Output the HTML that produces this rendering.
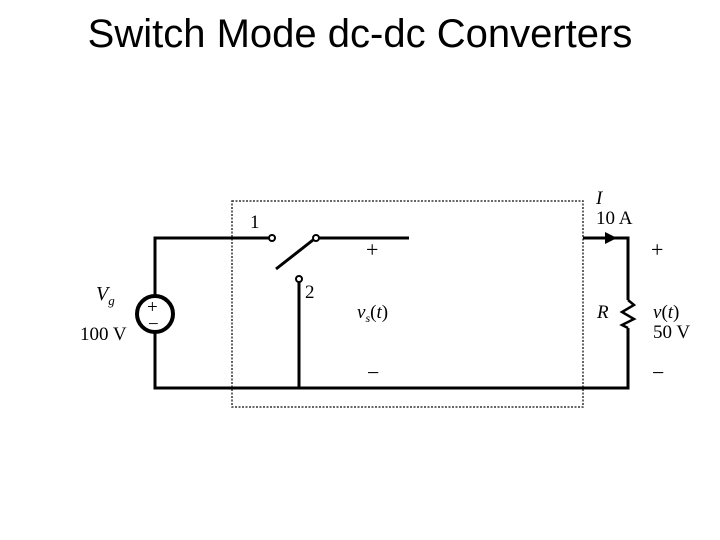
<!DOCTYPE html>
<html><head><style>
body{margin:0;background:#fff;width:720px;height:540px;overflow:hidden}
.t{position:absolute;left:0;width:720px;top:12px;text-align:center;font-family:"Liberation Sans",sans-serif;font-size:40px;color:#000}
</style></head><body>
<div class="t">Switch Mode dc-dc Converters</div>
<svg width="720" height="540" style="position:absolute;left:0;top:0" font-family="Liberation Serif, serif" font-size="19">
<rect x="232" y="201" width="351" height="206" fill="none" stroke="#333" stroke-width="1.5" stroke-dasharray="2,1.5"/>
<g stroke="#000" stroke-width="3" fill="none">
<polyline points="155,295 155,238 269,238"/>
<polyline points="155,333 155,388 628,388 628,328"/>
<line x1="319" y1="238" x2="409" y2="238"/>
<line x1="276" y1="269" x2="313" y2="240"/>
<line x1="299" y1="282" x2="299" y2="388"/>
<polyline points="583,238 628,238 628,300"/>
<polyline points="628,300 634,305 622,312 634,319 622,325 628,328" stroke-width="2.5"/>
<circle cx="155" cy="314" r="18" stroke-width="4"/>
</g>
<g stroke="#000" stroke-width="2" fill="#fff">
<circle cx="272" cy="238" r="3"/><circle cx="316" cy="238" r="3"/><circle cx="299" cy="279" r="3"/>
</g>
<polygon points="605,232 617,238 605,244" fill="#000"/>
<g fill="#000">
<text x="250" y="228">1</text><text x="305" y="298">2</text>
<text x="366" y="257" font-size="22">+</text><text x="367" y="380" font-size="22">−</text>
<text x="357" y="318" font-style="italic">v<tspan font-size="12" dy="4">s</tspan><tspan dy="-4" font-style="normal">(</tspan>t<tspan font-style="normal">)</tspan></text>
<text x="96" y="300" font-style="italic" font-size="20">V<tspan font-size="13" dy="5">g</tspan></text>
<text x="80" y="340">100 V</text>
<text x="147" y="313" font-size="19">+</text><text x="148" y="330" font-size="19">−</text>
<text x="596" y="204" font-style="italic">I</text><text x="596" y="224">10 A</text>
<text x="651" y="257" font-size="22">+</text><text x="652" y="380" font-size="22">−</text>
<text x="597" y="318" font-style="italic">R</text>
<text x="653" y="318"><tspan font-style="italic">v</tspan>(<tspan font-style="italic">t</tspan>)</text>
<text x="653" y="338">50 V</text>
</g>
</svg>
</body></html>
